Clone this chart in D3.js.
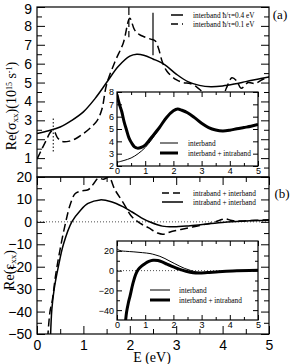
<!DOCTYPE html>
<html lang="en">
<head>
  <meta charset="UTF-8">
  <title>Re(sigma) and Re(epsilon)</title>
  <script src="https://d3js.org/d3.v7.min.js"></script>
  <style>
    body { margin: 0; background: #fff; }
    svg { display: block; font-family: "Liberation Serif", "DejaVu Serif", serif; }
  </style>
</head>
<body>
  <div id="chart"></div>

  <script>
    // --- data ---
    // panel (a): Re(sigma_xx), 10^15 s^-1
    const sigE04 = [0, 0.25, 0.5, 0.75, 1.0, 1.25, 1.5, 1.75, 2.0, 2.15, 2.3, 2.5, 2.75, 3.0, 3.25, 3.5, 3.75, 4.0, 4.25, 4.5, 4.75, 5.0];
    const sig04  = [2.3, 2.45, 2.65, 3.0, 3.45, 4.15, 5.0, 5.85, 6.4, 6.5, 6.45, 6.25, 5.95, 5.45, 5.05, 4.85, 4.78, 4.82, 4.92, 5.05, 5.18, 5.3];
    const sigE01 = [0, 0.1, 0.2, 0.3, 0.36, 0.45, 0.55, 0.7, 0.85, 1.0, 1.15, 1.3, 1.4, 1.5, 1.68, 1.86, 2.0, 2.1, 2.2, 2.33, 2.45, 2.55, 2.62, 2.7, 2.8, 3.0, 3.15, 3.3, 3.45, 3.6, 3.8, 4.0, 4.08, 4.2, 4.3, 4.4, 4.55, 4.7, 4.85, 5.0];
    const sig01  = [0.95, 1.45, 1.95, 2.4, 2.45, 2.05, 1.88, 1.9, 2.05, 2.3, 2.6, 3.0, 3.6, 4.9, 6.1, 7.1, 8.4, 7.8, 7.55, 7.4, 7.3, 7.2, 6.8, 6.1, 5.6, 5.15, 5.0, 4.95, 4.75, 4.45, 4.3, 4.3, 4.7, 5.25, 5.1, 4.7, 5.0, 4.95, 5.15, 5.3];
    // vertical markers in (a): [E, from, to]
    const markDotted = [0.35, 1.35, 3.1];
    const markDashed = [1.98, 9.0, 7.4];
    const markSolid  = [2.5, 8.7, 6.45];

    // inset (a)
    const insAE     = [0, 0.25, 0.5, 0.75, 1.0, 1.25, 1.5, 1.75, 2.0, 2.15, 2.3, 2.5, 2.75, 3.0, 3.25, 3.5, 3.75, 4.0, 4.25, 4.5, 4.75, 5.0];
    const insAInter = [2.3, 2.45, 2.65, 3.0, 3.5, 4.2, 5.05, 5.9, 6.45, 6.6, 6.5, 6.3, 5.9, 5.45, 5.1, 4.9, 4.82, 4.88, 5.0, 5.1, 5.2, 5.35];
    const insATotE  = [0, 0.05, 0.1, 0.17, 0.25, 0.34, 0.42, 0.52, 0.62, 0.72, 0.85, 1.0, 1.2, 1.5, 1.75, 2.0, 2.15, 2.3, 2.5, 2.75, 3.0, 3.25, 3.5, 3.75, 4.0, 4.25, 4.5, 4.75, 5.0];
    const insATot   = [7.8, 7.3, 6.9, 6.4, 5.6, 4.9, 4.3, 3.86, 3.55, 3.45, 3.5, 3.7, 4.25, 5.1, 5.92, 6.47, 6.62, 6.52, 6.32, 5.92, 5.47, 5.12, 4.92, 4.84, 4.9, 5.02, 5.12, 5.22, 5.37];

    // panel (b): Re(eps_xx)
    const epsE04 = [0.29, 0.32, 0.37, 0.46, 0.57, 0.75, 0.93, 1.1, 1.36, 1.6, 1.85, 2.05, 2.25, 2.45, 2.7, 2.95, 3.3, 3.7, 4.1, 4.5, 5.0];
    const eps04  = [-52, -39, -30, -20, -10, 0, 5, 8.2, 9.8, 9.0, 6.8, 4.4, 1.8, -0.2, -1.9, -2.2, -1.7, -0.9, -0.1, 0.4, 0.7];
    const epsE01 = [0.23, 0.28, 0.33, 0.4, 0.5, 0.62, 0.72, 0.82, 0.95, 1.1, 1.22, 1.32, 1.43, 1.55, 1.68, 1.86, 2.04, 2.22, 2.4, 2.6, 2.72, 2.9, 3.1, 3.35, 3.6, 3.8, 3.95, 4.05, 4.2, 4.4, 4.7, 5.0];
    const eps01  = [-52, -40, -35, -24, -12, 0, 8, 12.5, 13.8, 14.3, 17, 19.5, 19, 19.8, 14.3, 8.5, 2.4, -0.6, -2.6, -5.0, -5.5, -4.3, -3.4, -2.3, -1.2, -0.3, 0.8, 1.4, 0.6, 0.4, 0.7, 0.9];

    // inset (b)
    const insBInterE = [0, 0.05, 0.15, 0.3, 0.6, 0.9, 1.17, 1.35, 1.52, 1.7, 1.88, 2.05, 2.23, 2.4, 2.6, 2.8, 3.0, 3.3, 3.7, 4.2, 5.0];
    const insBInter  = [22, 21, 20, 19.6, 19, 18.2, 17.3, 16, 14.5, 12.2, 9.5, 7, 4.4, 2.2, 0.3, -1.3, -1.9, -1.6, -0.9, -0.3, 0.2];
    const insBTotE   = [0.3, 0.34, 0.4, 0.46, 0.57, 0.66, 0.75, 0.87, 0.99, 1.13, 1.28, 1.45, 1.6, 1.77, 2.0, 2.23, 2.45, 2.7, 2.9, 3.2, 3.6, 4.1, 5.0];
    const insBTot    = [-52, -42, -33, -26, -12.5, -4, 1, 4.5, 7, 9.3, 10.5, 10.2, 8.8, 6.5, 3.8, 1.2, -0.7, -2.2, -2.5, -2.0, -1.1, -0.3, 0.3];

    const xTicks = [0, 1, 2, 3, 4, 5];
    const sigTicks = [1, 2, 3, 4, 5, 6, 7, 8, 9];
    const epsTicks = [-50, -40, -30, -20, -10, 0, 10, 20];
    const insATicks = [2, 3, 4, 5, 6, 7, 8];
    const insBTicks = [-40, -20, 0, 20];

    const zip = (xs, ys) => xs.map((e, i) => [e, ys[i]]);

    // --- layout ---
    const W = 294, H = 364;
    const svg = d3.select('#chart').append('svg').attr('width', W).attr('height', H);

    const x = d3.scaleLinear([0, 5], [37, 269]);
    const yA = d3.scaleLinear([0, 9], [177, 7]);
    const yB = d3.scaleLinear([-50, 20], [334, 177]);
    const xi = d3.scaleLinear([0, 5], [117, 258]);
    const yiA = d3.scaleLinear([2, 8], [166, 92]);
    const yiB = d3.scaleLinear([-50, 30], [320, 241]);

    const halfSteps = (a, b, s) => d3.range(a, b + 1e-9, s).filter(v => Math.abs(v - Math.round(v / (2 * s)) * 2 * s) > 1e-9);

    function clip(id, xs, ys) {
      svg.append('clipPath').attr('id', id).append('rect')
        .attr('x', xs.range()[0]).attr('y', ys.range()[1])
        .attr('width', xs.range()[1] - xs.range()[0])
        .attr('height', ys.range()[0] - ys.range()[1]);
    }

    function curve(g, data, xs, ys, width, dash) {
      const line = d3.line().x(d => xs(d[0])).y(d => ys(d[1])).curve(d3.curveCatmullRom.alpha(0.5));
      g.append('path').datum(data)
        .attr('fill', 'none').attr('stroke', '#000')
        .attr('stroke-width', width)
        .attr('stroke-dasharray', dash || null)
        .attr('d', line);
    }

    function ticks(g, axis, pos, vals, size, fmt, fs, pad) {
      const a = g.append('g').attr('transform', pos)
        .call(axis.tickValues(vals).tickSize(size).tickPadding(pad || 4)
          .tickFormat(fmt ? fmt : ''));
      a.select('.domain').remove();
      a.selectAll('line').attr('stroke', '#000');
      a.selectAll('text').attr('font-family', null).attr('font-size', fs || 14).attr('fill', '#000');
      return a;
    }

    // ===== panel (a) =====
    clip('clipA', x, yA);
    const gA = svg.append('g');
    const cA = gA.append('g').attr('clip-path', 'url(#clipA)');
    curve(cA, zip(sigE04, sig04), x, yA, 1.5);
    curve(cA, zip(sigE01, sig01), x, yA, 1.5, '8,4');
    cA.append('line').attr('x1', x(markDotted[0])).attr('x2', x(markDotted[0]))
      .attr('y1', yA(markDotted[1])).attr('y2', yA(markDotted[2]))
      .attr('stroke', '#000').attr('stroke-dasharray', '1.5,2');
    cA.append('line').attr('x1', x(markDashed[0])).attr('x2', x(markDashed[0]))
      .attr('y1', yA(markDashed[1])).attr('y2', yA(markDashed[2]))
      .attr('stroke', '#000').attr('stroke-width', 1.2).attr('stroke-dasharray', '8,4');
    cA.append('line').attr('x1', x(markSolid[0])).attr('x2', x(markSolid[0]))
      .attr('y1', yA(markSolid[1])).attr('y2', yA(markSolid[2]))
      .attr('stroke', '#000').attr('stroke-width', 1.2);

    const leftA = ticks(gA, d3.axisLeft(yA), `translate(${x(0)},0)`, sigTicks, -8, d3.format('d'), 14, 5);
    // keep the top label inside the page
    leftA.selectAll('.tick').filter(d => d === 9).select('text').attr('dy', '0.45em');
    ticks(gA, d3.axisLeft(yA), `translate(${x(0)},0)`, halfSteps(0.5, 8.5, 0.5), -5);
    ticks(gA, d3.axisRight(yA), `translate(${x(5)},0)`, sigTicks, -8);
    ticks(gA, d3.axisRight(yA), `translate(${x(5)},0)`, halfSteps(0.5, 8.5, 0.5), -5);
    gA.append('rect').attr('x', x(0)).attr('y', yA(9))
      .attr('width', x(5) - x(0)).attr('height', yA(0) - yA(9))
      .attr('fill', 'none').attr('stroke', '#000').attr('stroke-width', 1.2);

    // legend (a)
    const legA = [['interband ħ/τ=0.4 eV', null, 15], ['interband ħ/τ=0.1 eV', '7,4', 24]];
    legA.forEach(([t, dash, yy]) => {
      gA.append('line').attr('x1', 171).attr('x2', 183).attr('y1', yy).attr('y2', yy)
        .attr('stroke', '#000').attr('stroke-width', 1.5).attr('stroke-dasharray', dash);
      gA.append('text').attr('x', 193).attr('y', yy + 2.5).attr('font-size', 7.3).text(t);
    });
    svg.append('text').attr('x', 280).attr('y', 19).attr('text-anchor', 'middle').attr('font-size', 13).text('(a)');

    // inset (a)
    const iA = svg.append('g');
    iA.append('rect').attr('x', xi(0)).attr('y', yiA(8))
      .attr('width', xi(5) - xi(0)).attr('height', yiA(2) - yiA(8)).attr('fill', '#fff');
    clip('clipIA', xi, yiA);
    const ciA = iA.append('g').attr('clip-path', 'url(#clipIA)');
    curve(ciA, zip(insAE, insAInter), xi, yiA, 1);
    curve(ciA, zip(insATotE, insATot), xi, yiA, 3);
    ticks(iA, d3.axisLeft(yiA), `translate(${xi(0)},0)`, insATicks, -5, d3.format('d'), 9, 3);
    ticks(iA, d3.axisRight(yiA), `translate(${xi(5)},0)`, insATicks, -5);
    ticks(iA, d3.axisBottom(xi), `translate(0,${yiA(2)})`, xTicks, -5, d3.format('d'), 9, 2);
    ticks(iA, d3.axisBottom(xi), `translate(0,${yiA(2)})`, halfSteps(0.5, 4.5, 0.5), -3);
    ticks(iA, d3.axisTop(xi), `translate(0,${yiA(8)})`, xTicks, -5);
    ticks(iA, d3.axisTop(xi), `translate(0,${yiA(8)})`, halfSteps(0.5, 4.5, 0.5), -3);
    iA.append('rect').attr('x', xi(0)).attr('y', yiA(8))
      .attr('width', xi(5) - xi(0)).attr('height', yiA(2) - yiA(8))
      .attr('fill', 'none').attr('stroke', '#000').attr('stroke-width', 1.2);
    [['interband', 1, 143], ['interband + intraband', 3, 153]].forEach(([t, w, yy]) => {
      iA.append('line').attr('x1', 160).attr('x2', 178).attr('y1', yy).attr('y2', yy)
        .attr('stroke', '#000').attr('stroke-width', w);
      iA.append('text').attr('x', 188).attr('y', yy + 2.5).attr('font-size', 7.3).text(t);
    });

    // ===== panel (b) =====
    clip('clipB', x, yB);
    const gB = svg.append('g');
    const cB = gB.append('g').attr('clip-path', 'url(#clipB)');
    cB.append('line').attr('x1', x(0)).attr('x2', x(5)).attr('y1', yB(0)).attr('y2', yB(0))
      .attr('stroke', '#000').attr('stroke-width', 0.7).attr('stroke-dasharray', '1,2');
    curve(cB, zip(epsE04, eps04), x, yB, 1.5);
    curve(cB, zip(epsE01, eps01), x, yB, 1.5, '8,4');

    ticks(gB, d3.axisLeft(yB), `translate(${x(0)},0)`, epsTicks, -8, d3.format('d'), 14, 5);
    ticks(gB, d3.axisLeft(yB), `translate(${x(0)},0)`, halfSteps(-45, 15, 5), -5);
    ticks(gB, d3.axisRight(yB), `translate(${x(5)},0)`, epsTicks, -8);
    ticks(gB, d3.axisRight(yB), `translate(${x(5)},0)`, halfSteps(-45, 15, 5), -5);
    ticks(gB, d3.axisBottom(x), `translate(0,${yB(-50)})`, xTicks, -8, d3.format('d'), 14, 6);
    ticks(gB, d3.axisBottom(x), `translate(0,${yB(-50)})`, halfSteps(0.5, 4.5, 0.5), -5);
    ticks(gB, d3.axisTop(x), `translate(0,${yB(20)})`, xTicks, -8);
    ticks(gB, d3.axisTop(x), `translate(0,${yB(20)})`, halfSteps(0.5, 4.5, 0.5), -5);
    gB.append('rect').attr('x', x(0)).attr('y', yB(20))
      .attr('width', x(5) - x(0)).attr('height', yB(-50) - yB(20))
      .attr('fill', 'none').attr('stroke', '#000').attr('stroke-width', 1.2);

    [['intraband + interband', '7,4', 193], ['intraband + interband', null, 202]].forEach(([t, dash, yy]) => {
      gB.append('line').attr('x1', 162).attr('x2', 183).attr('y1', yy).attr('y2', yy)
        .attr('stroke', '#000').attr('stroke-width', 1.5).attr('stroke-dasharray', dash);
      gB.append('text').attr('x', 193).attr('y', yy + 2.5).attr('font-size', 7.3).text(t);
    });
    svg.append('text').attr('x', 282).attr('y', 198).attr('text-anchor', 'middle').attr('font-size', 13).text('(b)');

    // inset (b)
    const iB = svg.append('g');
    iB.append('rect').attr('x', xi(0)).attr('y', yiB(30))
      .attr('width', xi(5) - xi(0)).attr('height', yiB(-50) - yiB(30)).attr('fill', '#fff');
    clip('clipIB', xi, yiB);
    const ciB = iB.append('g').attr('clip-path', 'url(#clipIB)');
    ciB.append('line').attr('x1', xi(0)).attr('x2', xi(5)).attr('y1', yiB(0)).attr('y2', yiB(0))
      .attr('stroke', '#000').attr('stroke-width', 0.7).attr('stroke-dasharray', '1,2');
    curve(ciB, zip(insBInterE, insBInter), xi, yiB, 1);
    curve(ciB, zip(insBTotE, insBTot), xi, yiB, 3);
    ticks(iB, d3.axisLeft(yiB), `translate(${xi(0)},0)`, insBTicks, -5, d3.format('d'), 9, 3);
    ticks(iB, d3.axisLeft(yiB), `translate(${xi(0)},0)`, [-30, -10, 10], -3);
    ticks(iB, d3.axisRight(yiB), `translate(${xi(5)},0)`, insBTicks, -5);
    ticks(iB, d3.axisRight(yiB), `translate(${xi(5)},0)`, [-30, -10, 10], -3);
    ticks(iB, d3.axisBottom(xi), `translate(0,${yiB(-50)})`, xTicks, -5, d3.format('d'), 9, 2);
    ticks(iB, d3.axisBottom(xi), `translate(0,${yiB(-50)})`, halfSteps(0.5, 4.5, 0.5), -3);
    ticks(iB, d3.axisTop(xi), `translate(0,${yiB(30)})`, xTicks, -5);
    ticks(iB, d3.axisTop(xi), `translate(0,${yiB(30)})`, halfSteps(0.5, 4.5, 0.5), -3);
    iB.append('rect').attr('x', xi(0)).attr('y', yiB(30))
      .attr('width', xi(5) - xi(0)).attr('height', yiB(-50) - yiB(30))
      .attr('fill', 'none').attr('stroke', '#000').attr('stroke-width', 1.2);
    [['interband', 1, 290], ['interband + intraband', 3, 300]].forEach(([t, w, yy]) => {
      iB.append('line').attr('x1', 150).attr('x2', 170).attr('y1', yy).attr('y2', yy)
        .attr('stroke', '#000').attr('stroke-width', w);
      iB.append('text').attr('x', 179).attr('y', yy + 2.5).attr('font-size', 7.3).text(t);
    });

    // ===== axis titles =====
    const tA = svg.append('text').attr('transform', 'translate(16,106) rotate(-90)')
      .attr('text-anchor', 'middle').attr('font-size', 14);
    tA.append('tspan').text('Re(σ');
    tA.append('tspan').attr('font-size', 9).attr('baseline-shift', '-25%').text('xx');
    tA.append('tspan').text(')(10');
    tA.append('tspan').attr('font-size', 8).attr('baseline-shift', '45%').text('15');
    tA.append('tspan').text(' s');
    tA.append('tspan').attr('font-size', 8).attr('baseline-shift', '45%').text('-1');
    tA.append('tspan').text(')');

    const tB = svg.append('text').attr('transform', 'translate(14,270) rotate(-90)')
      .attr('text-anchor', 'middle').attr('font-size', 14);
    tB.append('tspan').text('Re(ε');
    tB.append('tspan').attr('font-size', 9).attr('baseline-shift', '-25%').text('xx');
    tB.append('tspan').text(')');

    svg.append('text').attr('x', 152).attr('y', 362).attr('text-anchor', 'middle')
      .attr('font-size', 14).text('E (eV)');
  </script>
</body>
</html>
